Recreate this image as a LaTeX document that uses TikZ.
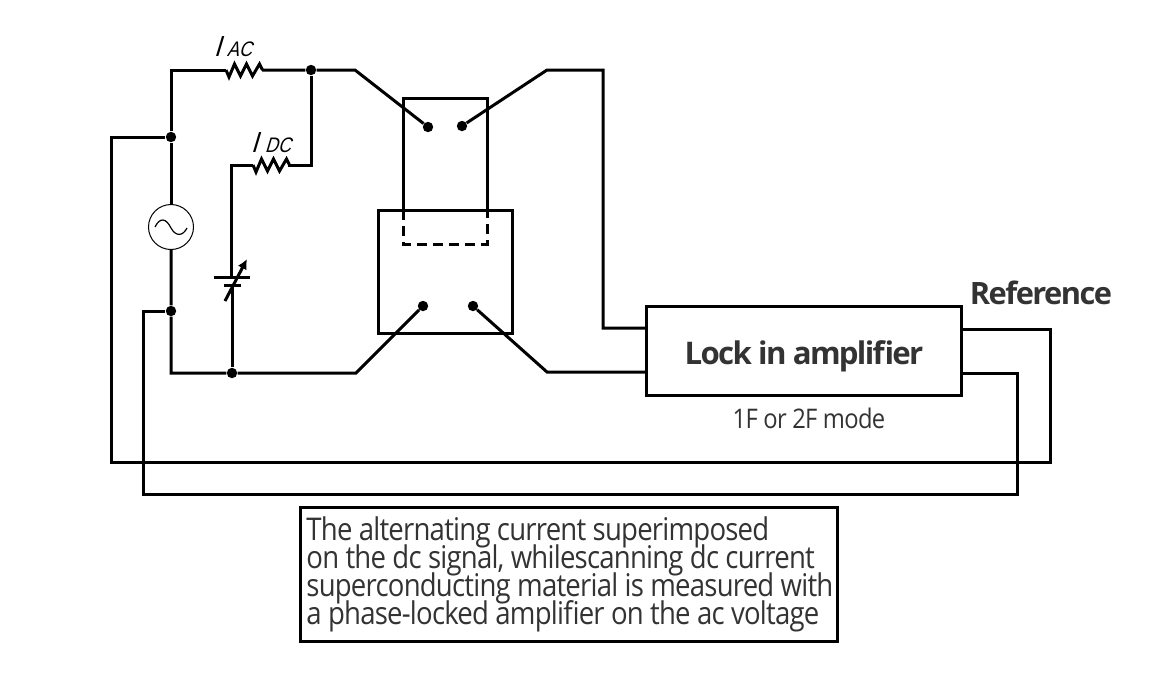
\documentclass[tikz,border=0pt]{standalone}
\usepackage{fontspec}
\setmainfont[LetterSpace=-2.5]{Open Sans}
\newfontfamily\notefont[LetterSpace=-2.5,FakeStretch=0.88]{Open Sans}
\newfontfamily\labelfont[FakeSlant=0.3,FakeStretch=0.85]{Liberation Sans}
\usetikzlibrary{arrows.meta}
\setlength{\lineskiplimit}{-100pt}
\newcommand{\zigteeth}{-- ++(3,7) -- ++(5.5,-13) -- ++(6,12) -- ++(6,-12) -- ++(6,12) -- ++(7,-12) -- ++(3,6)}

\begin{document}
\begin{tikzpicture}[
    x=0.5pt, y=-0.5pt,
    wire/.style={line width=1.5pt, line join=miter},
    dot/.style={circle, fill=black, inner sep=0pt, minimum size=5.2pt},
    box/.style={draw, line width=1.5pt, inner sep=0pt, outer sep=0pt},
    word/.style={inner sep=0pt, text=black!80},
    cur/.style={inner sep=0pt, anchor=base west, font=\labelfont\fontsize{14.5}{16}\selectfont},
    cursub/.style={inner sep=0pt, anchor=base west, font=\labelfont\fontsize{10.5}{12}\selectfont}
]
\useasboundingbox (0,0) rectangle (1173,693);

% switch boxes
\node[box, minimum width=42pt, minimum height=56pt] (swtop) at (445,154) {};
\node[box, minimum width=67pt, minimum height=61.5pt, fill=white] (swlow) at (445,271.5) {};
\draw[wire, dash pattern=on 5pt off 3pt] (swtop.south west) -- ++(0,34) -- ++(84,0) -- (swtop.south east);
\node[dot] (swa) at (428,127) {};
\node[dot] (swb) at (462,126) {};
\node[dot] (swc) at (423,306) {};
\node[dot] (swd) at (473,306) {};

% amplifier
\node[box, minimum width=157.5pt, minimum height=44.5pt] (amp) at (803.5,350.5) {};
\node[word, font=\bfseries\addfontfeatures{LetterSpace=-5.5}\fontsize{15.6}{18}\selectfont] (amptxt) at (804,356) {Lock in amplifier};
\node[word, font=\notefont\fontsize{13.5}{15}\selectfont] (mode) at (809,418) {1F or 2F mode};
\node[word, font=\bfseries\addfontfeatures{LetterSpace=-5}\fontsize{15.4}{18}\selectfont] (refer) at (1041,293) {Reference};

% source and junctions
\node[circle, draw, line width=0.5pt, inner sep=0pt, minimum size=22.5pt] (src) at (171,227) {};
\draw[line width=0.6pt] (155,227) .. controls (160,217) and (166,218) .. (171,228) .. controls (176,237) and (183,236) .. (187,228);
\node[dot] (jtop) at (171,137) {};
\node[dot] (jbot) at (171,311) {};
\node[dot] (jac) at (311,70) {};
\node[dot] (jdc) at (232,373) {};

% corner points
\coordinate (racin) at (226,70);
\coordinate (racout) at (262,70);
\coordinate (rdcin) at (253,165);
\coordinate (rdcout) at (288,165);
\coordinate (batup) at (231,277);
\coordinate (batlo) at (232,285);
\coordinate (ampin) at (646,328);
\coordinate (ampre) at (646,372);
\coordinate (outa) at (961,329);
\coordinate (outb) at (961,373);

% resistors
\draw[wire] (racin) \zigteeth;
\draw[wire] (rdcin) \zigteeth;
\node[cur] (iac) at (213.5,56) {I};
\node[cursub] (iacs) at (226.5,56) {AC};
\node[cur] (idc) at (250.5,152) {I};
\node[cursub] (idcs) at (264.5,152) {DC};

% battery
\draw[wire] (214,277) -- (250,277);
\draw[wire] (224,285) -- (241,285);
\draw[wire, -{Latex[length=5pt,width=5pt]}] (225,301) -- (247,259);

% wires
\draw[wire] (src) -- (jtop) -- (171,70) -- (racin);
\draw[wire] (racout) -- (jac) -- (355,70) -- (swa);
\draw[wire] (jac) |- (rdcout);
\draw[wire] (rdcin) -- (231,165) -- (batup);
\draw[wire] (batlo) -- (jdc);
\draw[wire] (src) -- (jbot) -- (171,373) -- (jdc) -- (356,373) -- (swc);
\draw[wire] (swb) -- (547,70) -- (603,70) -- (603,328) -- (ampin);
\draw[wire] (swd) -- (547,372) -- (ampre);
\draw[wire] (jtop) -- (111,137) -- (111,462) -- (1050,462) -- (1050,329) -- (outa);
\draw[wire] (jbot) -- (143,311) -- (143,494) -- (1017,494) -- (1017,373) -- (outb);

% note
\node[box, anchor=north west, minimum width=268.5pt, minimum height=67pt] (note) at (300,507) {};
\node[word, anchor=west, align=left, font=\notefont\fontsize{15.65}{14}\selectfont] (notetxt) at (306,574.5) {The alternating current superimposed\\on the dc signal, whilescanning dc current\\superconducting material is measured with\\a phase-locked amplifier on the ac voltage};
\end{tikzpicture}
\end{document}
